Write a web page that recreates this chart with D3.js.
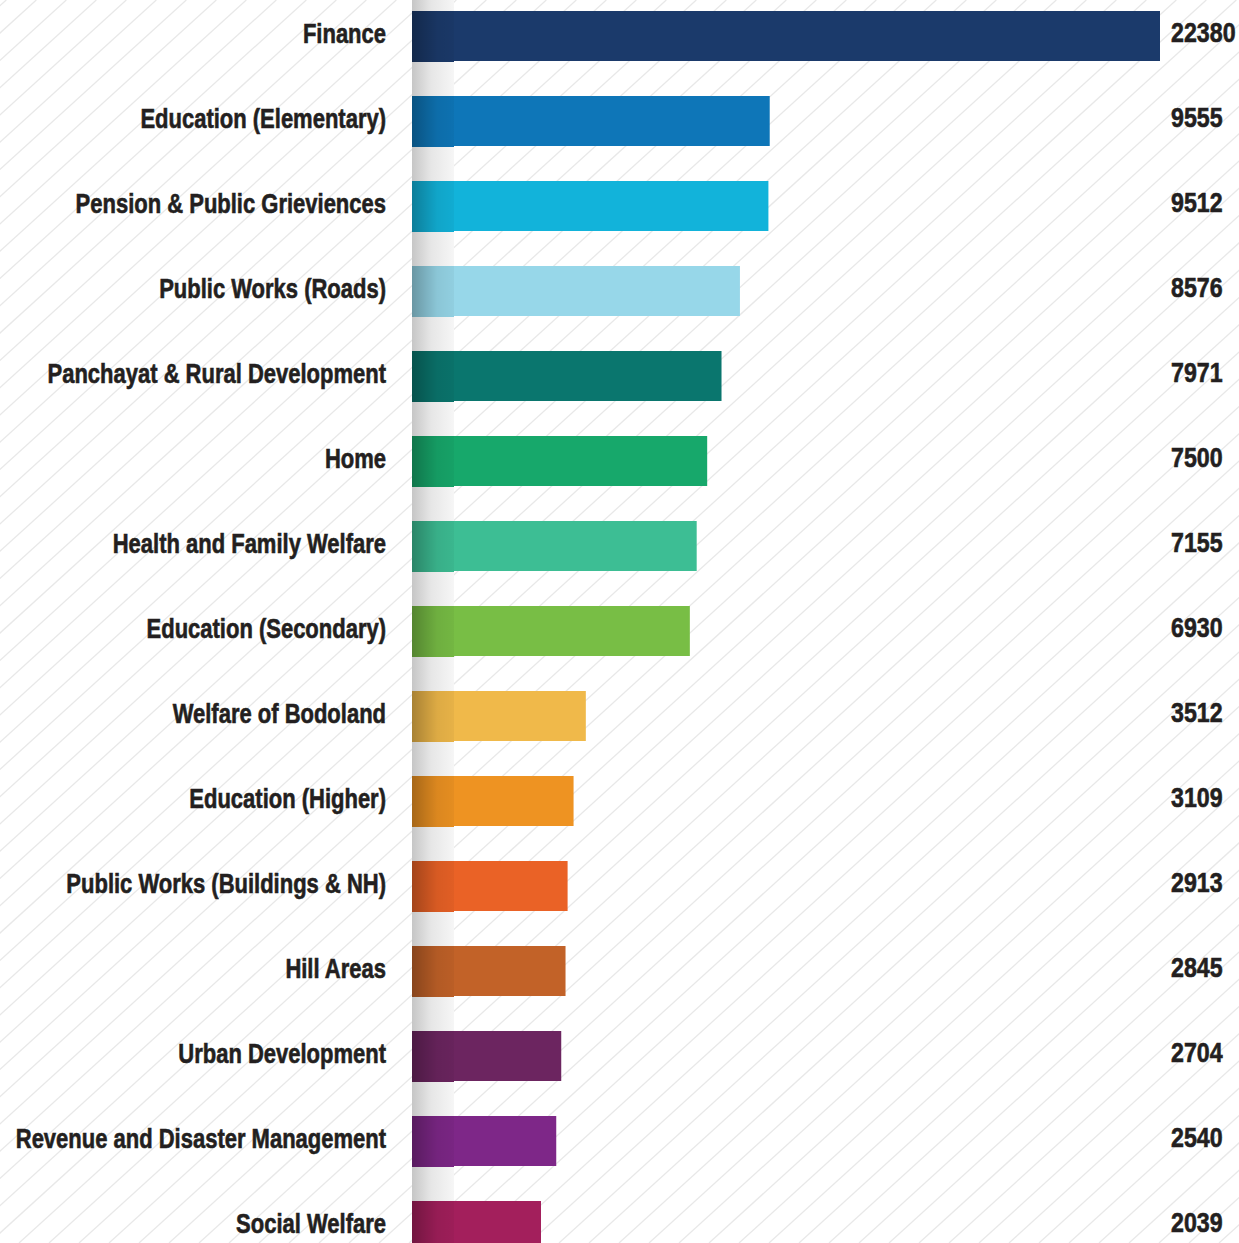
<!DOCTYPE html>
<html>
<head>
<meta charset="utf-8">
<script src="https://cdn.jsdelivr.net/npm/d3@7"></script>
<style>
  html, body { margin: 0; padding: 0; background: #fff; }
  svg { display: block; }
  .lbl, .val {
    font-family: "Liberation Sans", Arial, sans-serif;
    font-weight: bold;
    font-size: 27px;
    fill: #231f20;
    stroke: #231f20;
    stroke-width: 0.6px;
  }
</style>
</head>
<body>
<div id="chart"></div>
<script>
// departments, top to bottom
var departments = [
  "Finance",
  "Education (Elementary)",
  "Pension & Public Grieviences",
  "Public Works (Roads)",
  "Panchayat & Rural Development",
  "Home",
  "Health and Family Welfare",
  "Education (Secondary)",
  "Welfare of Bodoland",
  "Education (Higher)",
  "Public Works (Buildings & NH)",
  "Hill Areas",
  "Urban Development",
  "Revenue and Disaster Management",
  "Social Welfare"
];

var amounts = [22380, 9555, 9512, 8576, 7971, 7500, 7155, 6930, 3512, 3109, 2913, 2845, 2704, 2540, 2039];

var barColors = [
  "#1b3a6b", "#0e76b8", "#12b3da", "#97d7e9", "#0a766e",
  "#17a86b", "#3dbe94", "#78be45", "#f0b94a", "#ee9322",
  "#ea6226", "#c26228", "#6c2560", "#7e2788", "#a31f5c"
];

var W = 1239, H = 1243;
var barLeft = 412, barRight = 1160;

var svg = d3.select("#chart").append("svg")
    .attr("width", W)
    .attr("height", H);

var defs = svg.append("defs");

// grey "spine" behind the bar starts
var spine = defs.append("linearGradient").attr("id", "spine");
spine.append("stop").attr("offset", "0%").attr("stop-color", "#c6c6c6");
spine.append("stop").attr("offset", "45%").attr("stop-color", "#e6e6e6");
spine.append("stop").attr("offset", "100%").attr("stop-color", "#f6f6f6");

// darker left end on every bar
var shade = defs.append("linearGradient").attr("id", "shade");
shade.append("stop").attr("offset", "0%").attr("stop-color", "#000").attr("stop-opacity", 0.3);
shade.append("stop").attr("offset", "60%").attr("stop-color", "#000").attr("stop-opacity", 0.08);
shade.append("stop").attr("offset", "100%").attr("stop-color", "#000").attr("stop-opacity", 0.04);

svg.append("rect").attr("width", W).attr("height", H).attr("fill", "#fff");

// diagonal hatching in the background
var k = 1.1; // dx per dy
svg.append("g")
    .selectAll("line")
    .data(d3.range(-1400, W + 40, 30))
  .enter().append("line")
    .attr("x1", d => d + 9 + k * H)
    .attr("y1", 0)
    .attr("x2", d => d + 9)
    .attr("y2", H)
    .attr("stroke", "#e8e8e8")
    .attr("stroke-width", 1.3);

svg.append("rect")
    .attr("x", barLeft).attr("y", 0)
    .attr("width", 42).attr("height", H)
    .attr("fill", "url(#spine)");

// bars in the original don't start at zero, baseline sits a bit below it
var x = d3.scaleLinear()
    .domain([-2200, d3.max(amounts)])
    .range([barLeft, barRight]);

var y = d3.scaleBand()
    .domain(departments)
    .range([-6.5, -6.5 + 85 * departments.length])
    .paddingInner(35 / 85)
    .paddingOuter(35 / 170);

var rows = svg.append("g")
    .selectAll("g")
    .data(departments)
  .enter().append("g")
    .attr("transform", d => "translate(0," + y(d) + ")");

rows.append("rect")
    .attr("x", barLeft)
    .attr("width", (d, i) => x(amounts[i]) - barLeft)
    .attr("height", y.bandwidth())
    .attr("fill", (d, i) => barColors[i]);

rows.append("rect")
    .attr("x", barLeft)
    .attr("width", 42)
    .attr("height", y.bandwidth() + 1)
    .attr("fill", (d, i) => barColors[i]);

rows.append("rect")
    .attr("x", barLeft)
    .attr("width", 42)
    .attr("height", y.bandwidth() + 1)
    .attr("fill", "url(#shade)");

// condensed look: squeeze a regular bold face
rows.append("text")
    .attr("class", "lbl")
    .attr("transform", "translate(386,32) scale(0.815,1)")
    .attr("text-anchor", "end")
    .text(d => d);

rows.append("text")
    .attr("class", "val")
    .attr("transform", "translate(1171,31) scale(0.86,1)")
    .text((d, i) => amounts[i]);
</script>
</body>
</html>
